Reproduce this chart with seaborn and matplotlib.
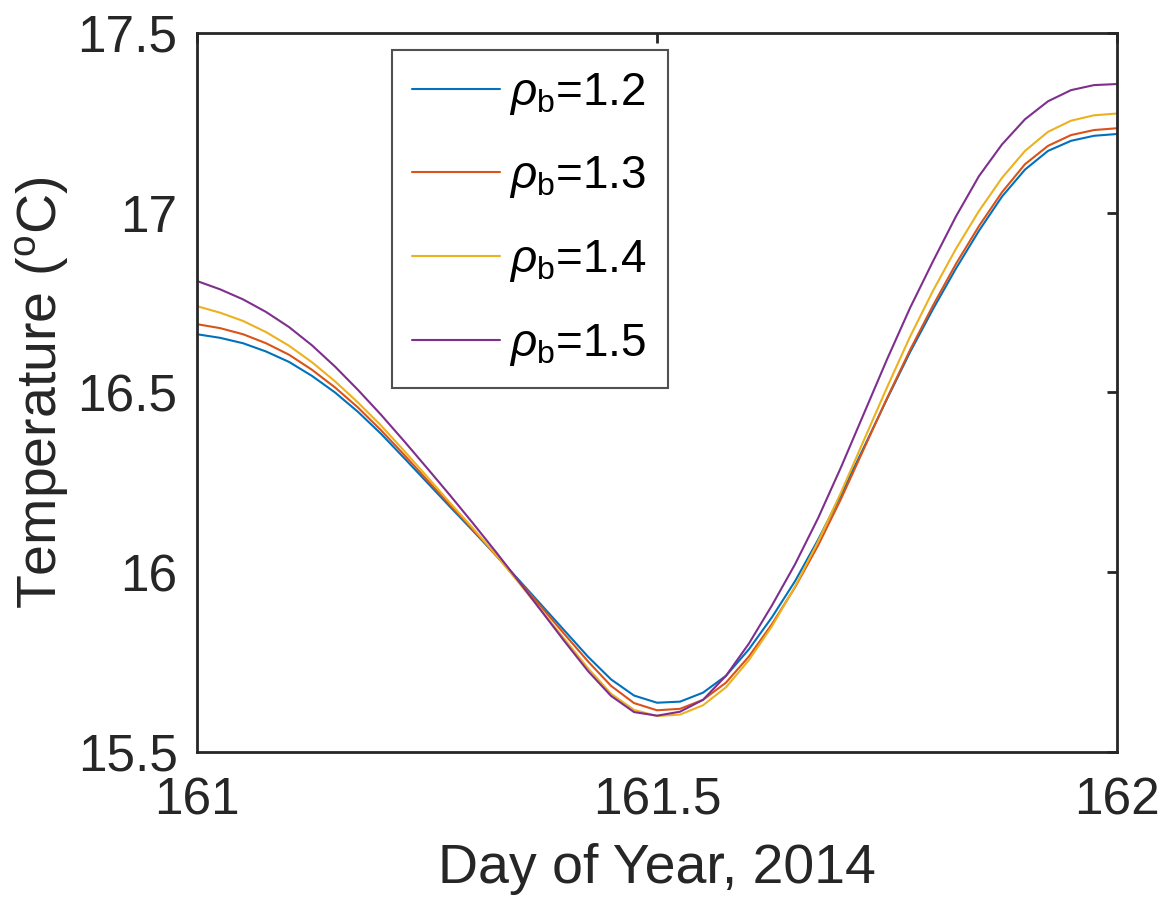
import matplotlib
matplotlib.use("Agg")
import matplotlib.pyplot as plt
import pandas as pd
import seaborn as sns

# Day of year (2014) sample times
day = [161.000, 161.025, 161.050, 161.075, 161.100, 161.125, 161.150, 161.175, 161.200, 161.225,
       161.250, 161.275, 161.300, 161.325, 161.350, 161.375, 161.400, 161.425, 161.450, 161.475,
       161.500, 161.525, 161.550, 161.575, 161.600, 161.625, 161.650, 161.675, 161.700, 161.725,
       161.750, 161.775, 161.800, 161.825, 161.850, 161.875, 161.900, 161.925, 161.950, 161.975,
       162.000]

# Simulated temperature (°C) for each bulk density
temp_rho_12 = [16.662, 16.652, 16.637, 16.614, 16.585, 16.546, 16.500, 16.446, 16.385, 16.318,
               16.250, 16.182, 16.115, 16.047, 15.978, 15.907, 15.836, 15.765, 15.702, 15.657,
               15.637, 15.640, 15.665, 15.712, 15.786, 15.875, 15.975, 16.090, 16.215, 16.348,
               16.482, 16.612, 16.732, 16.845, 16.950, 17.045, 17.120, 17.172, 17.200, 17.214,
               17.219]
temp_rho_13 = [16.690, 16.679, 16.662, 16.637, 16.605, 16.563, 16.514, 16.458, 16.395, 16.327,
               16.257, 16.187, 16.118, 16.047, 15.975, 15.901, 15.826, 15.752, 15.684, 15.636,
               15.616, 15.620, 15.645, 15.693, 15.766, 15.856, 15.958, 16.074, 16.204, 16.344,
               16.484, 16.618, 16.742, 16.858, 16.963, 17.057, 17.135, 17.186, 17.216, 17.230,
               17.235]
temp_rho_14 = [16.740, 16.722, 16.699, 16.668, 16.630, 16.584, 16.531, 16.472, 16.408, 16.338,
               16.266, 16.193, 16.122, 16.048, 15.970, 15.891, 15.812, 15.733, 15.662, 15.617,
               15.600, 15.604, 15.630, 15.680, 15.756, 15.850, 15.960, 16.085, 16.222, 16.368,
               16.514, 16.655, 16.783, 16.900, 17.005, 17.097, 17.172, 17.225, 17.256, 17.271,
               17.276]
temp_rho_15 = [16.810, 16.787, 16.759, 16.724, 16.682, 16.631, 16.572, 16.507, 16.438, 16.365,
               16.290, 16.214, 16.136, 16.056, 15.974, 15.890, 15.806, 15.725, 15.656, 15.611,
               15.601, 15.612, 15.645, 15.712, 15.802, 15.908, 16.022, 16.150, 16.292, 16.442,
               16.592, 16.735, 16.865, 16.990, 17.102, 17.190, 17.260, 17.310, 17.341, 17.355,
               17.358]

series_labels = [r"$\rho_\mathrm{b}$=1.2", r"$\rho_\mathrm{b}$=1.3",
                 r"$\rho_\mathrm{b}$=1.4", r"$\rho_\mathrm{b}$=1.5"]
series_colors = ["#0072BD", "#D95319", "#EDB120", "#7E2F8E"]

x_ticks = [161, 161.5, 162]
x_tick_labels = ["161", "161.5", "162"]
y_ticks = [15.5, 16, 16.5, 17, 17.5]
y_tick_labels = ["15.5", "16", "16.5", "17", "17.5"]

frames = []
for label, values in zip(series_labels,
                         [temp_rho_12, temp_rho_13, temp_rho_14, temp_rho_15]):
    frames.append(pd.DataFrame({"day": day, "temp": values, "series": label}))
df = pd.concat(frames, ignore_index=True)

sns.set_style("white")
ink = "#262626"
plt.rcParams["font.family"] = ["Liberation Sans", "DejaVu Sans"]
plt.rcParams["mathtext.fontset"] = "custom"
plt.rcParams["mathtext.rm"] = "Liberation Sans"
plt.rcParams["mathtext.it"] = "Liberation Sans:italic"
plt.rcParams["mathtext.bf"] = "Liberation Sans:bold"

fig, ax = plt.subplots(figsize=(11.7, 9.01), dpi=100)
fig.subplots_adjust(left=0.1684, right=0.9547, bottom=0.1654, top=0.9634)

sns.lineplot(data=df, x="day", y="temp", hue="series", hue_order=series_labels,
             palette=dict(zip(series_labels, series_colors)), linewidth=1.5,
             ax=ax, legend=True)

ax.set_xlim(161, 162)
ax.set_ylim(15.5, 17.5)
ax.set_xticks(x_ticks)
ax.set_xticklabels(x_tick_labels)
ax.set_yticks(y_ticks)
ax.set_yticklabels(y_tick_labels)

for side in ["left", "right", "top", "bottom"]:
    ax.spines[side].set_visible(True)
    ax.spines[side].set_color(ink)
    ax.spines[side].set_linewidth(2.0)

ax.tick_params(axis="both", which="major", direction="in", length=7, width=2,
               colors=ink, labelcolor=ink, labelsize=37, top=True, right=True)
ax.tick_params(axis="x", pad=18)
ax.tick_params(axis="y", pad=14)

ax.set_xlabel("Day of Year, 2014", fontsize=40, color=ink, labelpad=12)
ax.set_ylabel(r"Temperature ($^\mathrm{o}$C)", fontsize=40, color=ink, labelpad=5)

handles, labels = ax.get_legend_handles_labels()
leg = ax.legend(handles, labels, loc="upper left", bbox_to_anchor=(0.2115, 0.976),
                fontsize=33, frameon=True, fancybox=False, shadow=False,
                handlelength=1.92, handletextpad=0.2, borderpad=0.45,
                labelspacing=0.82, borderaxespad=0)
leg.get_frame().set_edgecolor(ink)
leg.get_frame().set_linewidth(1.5)
for t in leg.get_texts():
    t.set_color("black")
for h in leg.get_lines():
    h.set_linewidth(1.5)

fig.savefig("out.png", dpi=100, facecolor="white")
